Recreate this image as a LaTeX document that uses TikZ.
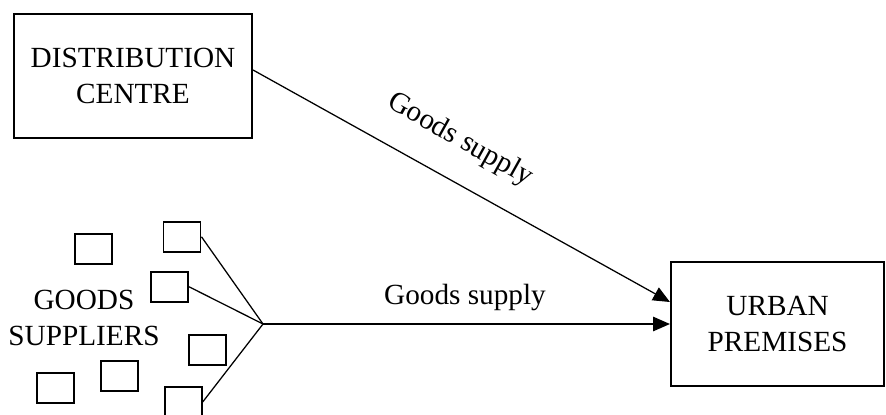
\documentclass[tikz,border=0pt]{standalone}
\usepackage{fontspec}
\setmainfont{Liberation Serif}
\usepackage{tikz}
\usetikzlibrary{arrows.meta,positioning}

\begin{document}
\begin{tikzpicture}[
    block/.style={draw,line width=1.5pt,align=center,font=\fontsize{20.8}{25}\selectfont},
    supplier/.style={draw,line width=1.4pt,minimum width=0.925cm,minimum height=0.75cm,inner sep=0pt},
    lbl/.style={font=\fontsize{20.8}{25}\selectfont,inner sep=0pt},
    link/.style={line width=0.9pt},
    >={Triangle[length=0.42cm,width=0.36cm]},
]
    \useasboundingbox (0,0) rectangle (22.15,10.35);

    \node[block,minimum width=5.95cm,minimum height=3.1cm] (dc) at (3.325,8.45) {DISTRIBUTION\\CENTRE};
    \node[block,minimum width=5.33cm,minimum height=3.1cm] (urban) at (19.44,2.25) {URBAN\\PREMISES};

    % scattered suppliers
    \node[supplier] (s1) at (2.34,4.13) {};
    \node[supplier] (s2) at (4.55,4.43) {};
    \node[supplier] (s3) at (4.24,3.18) {};
    \node[supplier] (s4) at (5.19,1.60) {};
    \node[supplier] (s5) at (2.98,0.95) {};
    \node[supplier] (s6) at (1.39,0.65) {};
    \node[supplier] (s7) at (4.58,0.30) {};
    \node[lbl,align=center] (gs) at (2.1,2.4) {GOODS\\SUPPLIERS};

    \coordinate (join) at (6.575,2.25);
    \draw[link] (s2.east) -- (join);
    \draw[link] (s3.east) -- (join);
    \draw[link] (s7.east) -- (join);
    \draw[link,->] (join) -- (urban.west);
    \draw[link,->] ([yshift=0.15cm]dc.east) -- ([yshift=0.55cm]urban.west);

    \node[lbl] (l1) at (11.625,2.9) {Goods supply};
    \node[lbl,rotate=-29.2] (l2) at (11.5,6.85) {Goods supply};
\end{tikzpicture}
\end{document}
